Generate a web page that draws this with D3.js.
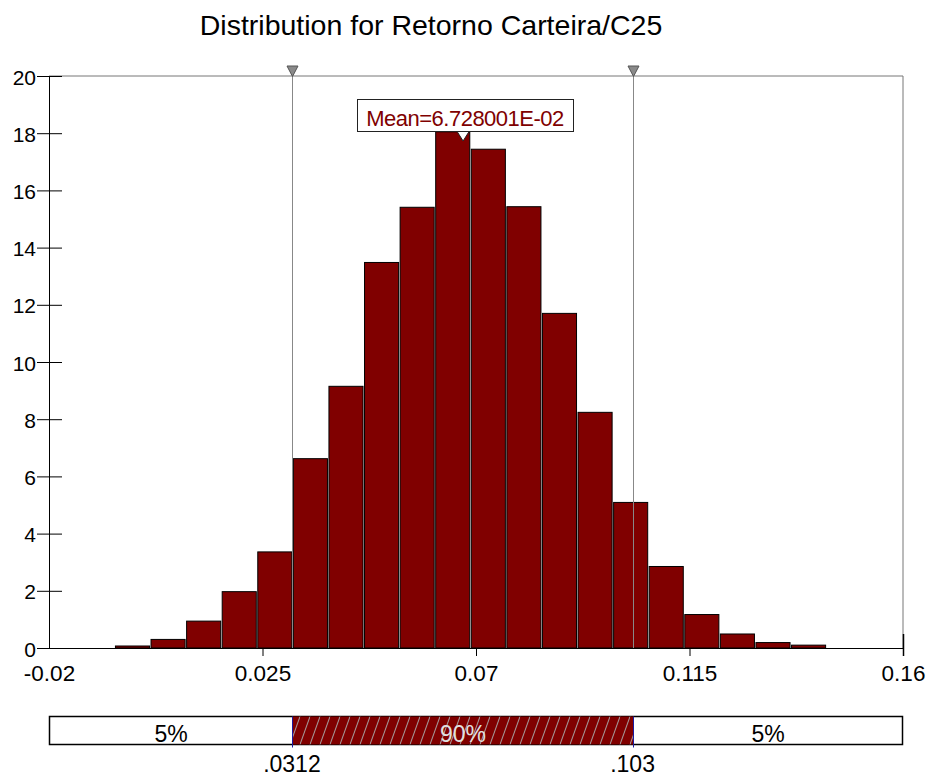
<!DOCTYPE html>
<html>
<head>
<meta charset="utf-8">
<script src="https://cdn.jsdelivr.net/npm/d3@7"></script>
<style>
  body { margin: 0; background: #fff; }
  svg { display: block; font-family: "Liberation Sans", Arial, sans-serif; }
</style>
</head>
<body>
<div class="chart"></div>
<script>
// histogram bins (edges) and density per bin
var binEdges = [-0.0061, 0.0014, 0.0089, 0.0164, 0.0239, 0.0314, 0.0389, 0.0464, 0.0539, 0.0614,
                0.0689, 0.0764, 0.0839, 0.0914, 0.0989, 0.1064, 0.1139, 0.1214, 0.1289, 0.1364, 0.1439];
var density = [0.07, 0.3, 0.94, 1.97, 3.36, 6.62, 9.15, 13.48, 15.41, 18.05,
               17.44, 15.43, 11.7, 8.24, 5.09, 2.85, 1.17, 0.49, 0.19, 0.1];

var xTicks = [-0.02, 0.025, 0.07, 0.115, 0.16];
var xTickLabels = ["-0.02", "0.025", "0.07", "0.115", "0.16"];
var yTicks = [0, 2, 4, 6, 8, 10, 12, 14, 16, 18, 20];

var percentiles = [0.0312, 0.103];
var percentileLabels = [".0312", ".103"];
var bandLabels = ["5%", "90%", "5%"];
var meanValue = 0.06728001;
var meanLabel = "Mean=6.728001E-02";
var title = "Distribution for Retorno Carteira/C25";

var width = 933, height = 776;
var barColor = "#800000";

var svg = d3.select(".chart").append("svg")
    .attr("width", width)
    .attr("height", height);

var defs = svg.append("defs");

var x = d3.scaleLinear().domain([-0.02, 0.16]).range([49, 903]);
var y = d3.scaleLinear().domain([0, 20]).range([648, 76]);

//title
svg.append("text")
    .attr("x", 431).attr("y", 35)
    .attr("text-anchor", "middle")
    .style("font-size", "28.5px")
    .text(title);

//frame (top and right, gray)
svg.append("path")
    .attr("d", "M" + x(-0.02) + "," + y(20) + "H" + x(0.16) + "V" + y(0))
    .attr("fill", "none").attr("stroke", "#777").attr("stroke-width", 1);

//bars
var bins = density.map(function (d, i) { return { x0: binEdges[i], x1: binEdges[i + 1], v: d }; });
svg.append("g").selectAll("rect")
    .data(bins)
    .enter().append("rect")
    .attr("x", function (d) { return x(d.x0) + 0.5; })
    .attr("y", function (d) { return y(d.v); })
    .attr("width", function (d) { return x(d.x1) - x(d.x0) - 1.5; })
    .attr("height", function (d) { return y(0) - y(d.v); })
    .attr("fill", barColor)
    .attr("stroke", "#000")
    .attr("stroke-width", 1);

//percentile lines + markers
svg.append("g").selectAll("line")
    .data(percentiles)
    .enter().append("line")
    .attr("x1", function (d) { return Math.round(x(d)) + 0.5; })
    .attr("x2", function (d) { return Math.round(x(d)) + 0.5; })
    .attr("y1", y(20)).attr("y2", y(0))
    .attr("stroke", "#888").attr("stroke-width", 1);

svg.append("g").selectAll("path")
    .data(percentiles)
    .enter().append("path")
    .attr("d", function (d) {
        var cx = Math.round(x(d)) + 0.5;
        return "M" + (cx - 5.5) + "," + 66 + "L" + (cx + 5.5) + "," + 66 + "L" + cx + "," + 76.5 + "Z";
    })
    .attr("fill", "#8a8a8a").attr("stroke", "#555").attr("stroke-width", 1);

//y axis
var yAxis = svg.append("g")
    .attr("transform", "translate(" + x(-0.02) + ",0)")
    .call(d3.axisLeft(y).tickValues(yTicks).tickSize(12).tickPadding(1));
yAxis.select(".domain").attr("stroke", "#000");
yAxis.selectAll(".tick line").attr("x1", 13).attr("x2", -12).attr("stroke", "#000");
yAxis.selectAll(".tick").filter(function (d) { return d === 0; }).select("line").remove();
yAxis.selectAll(".tick text")
    .attr("dy", "8px")
    .style("font-family", "\"Liberation Sans\", Arial, sans-serif")
    .style("font-size", "21px")
    .attr("fill", "#000");

//x axis
var xAxis = svg.append("g")
    .attr("transform", "translate(0," + y(0) + ")")
    .call(d3.axisBottom(x).tickValues(xTicks).tickSize(8).tickPadding(9)
        .tickFormat(function (d, i) { return xTickLabels[i]; }));
xAxis.select(".domain").attr("d", "M" + x(-0.02) + ",0.5H" + x(0.16)).attr("stroke", "#000");
xAxis.selectAll(".tick line").attr("stroke", "#000");
xAxis.selectAll(".tick").filter(function (d) { return d === -0.02; }).select("line").remove();
xAxis.selectAll(".tick").filter(function (d) { return d === 0.16; }).select("line").attr("y1", -14).attr("stroke-width", 1.5);
xAxis.selectAll(".tick text")
    .style("font-family", "\"Liberation Sans\", Arial, sans-serif")
    .style("font-size", "22.5px")
    .attr("fill", "#000");

//mean label
var mx = x(meanValue);
svg.append("rect")
    .attr("x", 357.5).attr("y", 99.5)
    .attr("width", 216).attr("height", 32)
    .attr("fill", "#fff").attr("stroke", "#222").attr("stroke-width", 1);
svg.append("text")
    .attr("x", 465).attr("y", 126)
    .attr("text-anchor", "middle")
    .attr("fill", barColor)
    .style("font-size", "22px")
    .style("letter-spacing", "-0.5px")
    .text(meanLabel);
svg.append("path")
    .attr("d", "M" + (mx - 6) + "," + 131.5 + "L" + (mx + 6) + "," + 131.5 + "L" + mx + "," + 141 + "Z")
    .attr("fill", "#fff").attr("stroke", "#222").attr("stroke-width", 1);

//bottom percentile band
var bandTop = 716.5, bandH = 28;
var pat = defs.append("pattern")
    .attr("id", "hatch")
    .attr("patternUnits", "userSpaceOnUse")
    .attr("x", 0).attr("y", bandTop)
    .attr("width", 10).attr("height", bandH);
pat.append("rect").attr("width", 10).attr("height", bandH).attr("fill", barColor);
pat.append("line")
    .attr("x1", 0).attr("y1", bandH).attr("x2", 10).attr("y2", 0)
    .attr("stroke", "#a8a8a8").attr("stroke-width", 1);

var p0 = Math.round(x(percentiles[0])) + 0.5, p1 = Math.round(x(percentiles[1])) + 0.5;
var bx0 = x(-0.02) + 0.5, bx1 = x(0.16) - 0.5;

svg.append("rect")
    .attr("x", bx0).attr("y", bandTop)
    .attr("width", bx1 - bx0).attr("height", bandH)
    .attr("fill", "#fff").attr("stroke", "#000").attr("stroke-width", 1.5);
svg.append("rect")
    .attr("x", p0).attr("y", bandTop)
    .attr("width", p1 - p0).attr("height", bandH)
    .attr("fill", "url(#hatch)");
svg.append("g").selectAll("line")
    .data([p0, p1])
    .enter().append("line")
    .attr("x1", function (d) { return d; }).attr("x2", function (d) { return d; })
    .attr("y1", bandTop).attr("y2", bandTop + bandH + 3)
    .attr("stroke", "#1a1aa0").attr("stroke-width", 1);

var bandCenters = [(bx0 + p0) / 2, (p0 + p1) / 2, (p1 + bx1) / 2];
svg.append("g").selectAll("text")
    .data(bandLabels)
    .enter().append("text")
    .attr("x", function (d, i) { return bandCenters[i]; })
    .attr("y", 742)
    .attr("text-anchor", "middle")
    .attr("fill", function (d, i) { return i === 1 ? "#e0e0e0" : "#000"; })
    .style("font-size", "23px")
    .text(function (d) { return d; });

svg.append("g").selectAll("text")
    .data(percentiles)
    .enter().append("text")
    .attr("x", function (d) { return x(d); })
    .attr("y", 772)
    .attr("text-anchor", "middle")
    .style("font-size", "23px")
    .text(function (d, i) { return percentileLabels[i]; });
</script>
</body>
</html>
